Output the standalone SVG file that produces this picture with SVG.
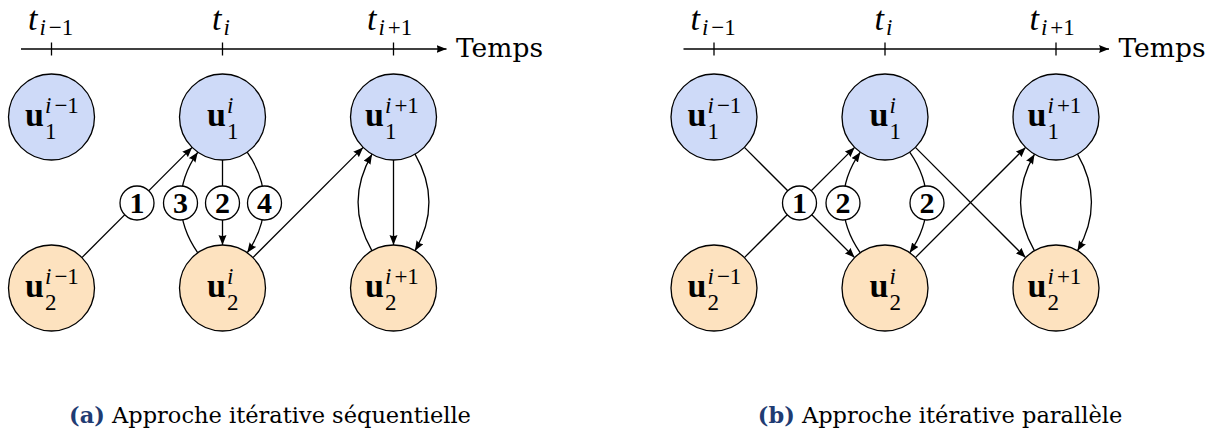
<svg xmlns="http://www.w3.org/2000/svg" width="1215" height="436" viewBox="0 0 1215 436">
<style>
  .n1 { fill: #cedaf8; stroke: #000; stroke-width: 1.3; }
  .n2 { fill: #fde2bf; stroke: #000; stroke-width: 1.3; }
  .lab { fill: #fff; stroke: #000; stroke-width: 1.3; }
  .e { fill: none; stroke: #000; stroke-width: 1.3; marker-end: url(#ah); }
  .ax { fill: none; stroke: #000; stroke-width: 1.3; }
  .u { font-family: "Liberation Serif", serif; font-weight: bold; font-size: 34px; }
  .s { font-family: "Liberation Serif", serif; font-size: 23px; }
  .t { font-family: "Liberation Serif", serif; font-style: italic; font-size: 34px; }
  .it { font-style: italic; }
  .num { font-family: "Liberation Serif", serif; font-weight: bold; font-size: 30px; text-anchor: middle; }
  .temps { font-family: "DejaVu Serif", serif; font-size: 26.5px; }
  .cap { font-family: "DejaVu Serif", serif; font-size: 22.5px; text-anchor: middle; }
  .capl { font-weight: bold; fill: #1f3c73; }
</style>
<defs>
  <marker id="ah" markerUnits="userSpaceOnUse" markerWidth="12" markerHeight="10" refX="10" refY="4" orient="auto">
    <path d="M0,0 L10,4 L0,8 Q2,4 0,0 Z" fill="#000"/>
  </marker>
  <g id="panel-axis">
    <path class="ax" d="M21,49 L446.5,49" style="marker-end:url(#ah)"/>
    <path class="ax" d="M51.5,42.5 V55.5 M222.5,42.5 V55.5 M393.5,42.5 V55.5"/>
    <text class="t" x="28" y="30">t<tspan class="s" y="35" dx="2">i</tspan><tspan class="s" style="font-style:normal" y="35" dx="3">−1</tspan></text>
    <text class="t" x="212" y="30">t<tspan class="s" y="35" dx="2">i</tspan></text>
    <text class="t" x="367" y="30">t<tspan class="s" y="35" dx="2">i</tspan><tspan class="s" style="font-style:normal" y="35" dx="3">+1</tspan></text>
    <text class="temps" x="456" y="57">Temps</text>
  </g>
</defs>

<!-- Panel (a) -->
<g id="panel-a">
  <use href="#panel-axis"/>
  <g id="a-connectors">
    <path class="e" d="M81.9,257.6 L192.1,147.4"/>
    <path class="e" d="M197.8,252.8 C175.2,220.5 175.2,184.5 197.8,152.2"/>
    <path class="e" d="M222.5,160 L222.5,245"/>
    <path class="e" d="M247.2,152.2 C269.8,184.5 269.8,220.5 247.2,252.8"/>
    <path class="e" d="M252.9,257.6 L363.1,147.4"/>
    <path class="e" d="M372,250.8 C353.1,218.1 353.1,186.9 372,154.2"/>
    <path class="e" d="M393.5,160 L393.5,245"/>
    <path class="e" d="M415,154.2 C433.9,186.9 433.9,218.1 415,250.8"/>
    <g id="a-label-1"><circle class="lab" cx="137" cy="203" r="17"/><text class="num" x="137" y="213">1</text></g>
    <g id="a-label-3"><circle class="lab" cx="180.5" cy="203" r="17"/><text class="num" x="180.5" y="213">3</text></g>
    <g id="a-label-2"><circle class="lab" cx="222.5" cy="203" r="17"/><text class="num" x="222.5" y="213">2</text></g>
    <g id="a-label-4"><circle class="lab" cx="264.5" cy="203" r="17"/><text class="num" x="264.5" y="213">4</text></g>
  </g>
  <g id="a-u1-im1"><circle class="n1" cx="51.5" cy="117" r="43"/><text class="u" x="25" y="126">u</text><text class="s" x="45" y="113"><tspan class="it">i</tspan><tspan dx="3">−1</tspan></text><text class="s" x="45" y="139">1</text></g>
  <g id="a-u1-i"><circle class="n1" cx="222.5" cy="117" r="43"/><text class="u" x="207" y="126">u</text><text class="s" x="227" y="113" font-style="italic">i</text><text class="s" x="227" y="139">1</text></g>
  <g id="a-u1-ip1"><circle class="n1" cx="393.5" cy="117" r="43"/><text class="u" x="365" y="126">u</text><text class="s" x="385" y="113"><tspan class="it">i</tspan><tspan dx="3">+1</tspan></text><text class="s" x="385" y="139">1</text></g>
  <g id="a-u2-im1"><circle class="n2" cx="51.5" cy="288" r="43"/><text class="u" x="25" y="297">u</text><text class="s" x="45" y="284"><tspan class="it">i</tspan><tspan dx="3">−1</tspan></text><text class="s" x="45" y="310">2</text></g>
  <g id="a-u2-i"><circle class="n2" cx="222.5" cy="288" r="43"/><text class="u" x="207" y="297">u</text><text class="s" x="227" y="284" font-style="italic">i</text><text class="s" x="227" y="310">2</text></g>
  <g id="a-u2-ip1"><circle class="n2" cx="393.5" cy="288" r="43"/><text class="u" x="365" y="297">u</text><text class="s" x="385" y="284"><tspan class="it">i</tspan><tspan dx="3">+1</tspan></text><text class="s" x="385" y="310">2</text></g>
  <text class="cap" x="270" y="423"><tspan class="capl">(a)</tspan> Approche itérative séquentielle</text>
</g>

<!-- Panel (b) -->
<g id="panel-b" transform="translate(662.5,0)">
  <use href="#panel-axis"/>
  <g id="b-connectors">
    <path class="e" d="M81.9,147.4 L192.1,257.6"/>
    <path class="e" d="M81.9,257.6 L192.1,147.4"/>
    <path class="e" d="M197.8,252.8 C175.2,220.5 175.2,184.5 197.8,152.2"/>
    <path class="e" d="M247.2,152.2 C269.8,184.5 269.8,220.5 247.2,252.8"/>
    <path class="e" d="M252.9,257.6 L363.1,147.4"/>
    <path class="e" d="M252.9,147.4 L363.1,257.6"/>
    <path class="e" d="M372,250.8 C353.1,218.1 353.1,186.9 372,154.2"/>
    <path class="e" d="M415,154.2 C433.9,186.9 433.9,218.1 415,250.8"/>
    <g id="b-label-1"><circle class="lab" cx="137" cy="203" r="17"/><text class="num" x="137" y="213">1</text></g>
    <g id="b-label-2a"><circle class="lab" cx="180.5" cy="203" r="17"/><text class="num" x="180.5" y="213">2</text></g>
    <g id="b-label-2b"><circle class="lab" cx="264.5" cy="203" r="17"/><text class="num" x="264.5" y="213">2</text></g>
  </g>
  <g id="b-u1-im1"><circle class="n1" cx="51.5" cy="117" r="43"/><text class="u" x="25" y="126">u</text><text class="s" x="45" y="113"><tspan class="it">i</tspan><tspan dx="3">−1</tspan></text><text class="s" x="45" y="139">1</text></g>
  <g id="b-u1-i"><circle class="n1" cx="222.5" cy="117" r="43"/><text class="u" x="207" y="126">u</text><text class="s" x="227" y="113" font-style="italic">i</text><text class="s" x="227" y="139">1</text></g>
  <g id="b-u1-ip1"><circle class="n1" cx="393.5" cy="117" r="43"/><text class="u" x="365" y="126">u</text><text class="s" x="385" y="113"><tspan class="it">i</tspan><tspan dx="3">+1</tspan></text><text class="s" x="385" y="139">1</text></g>
  <g id="b-u2-im1"><circle class="n2" cx="51.5" cy="288" r="43"/><text class="u" x="25" y="297">u</text><text class="s" x="45" y="284"><tspan class="it">i</tspan><tspan dx="3">−1</tspan></text><text class="s" x="45" y="310">2</text></g>
  <g id="b-u2-i"><circle class="n2" cx="222.5" cy="288" r="43"/><text class="u" x="207" y="297">u</text><text class="s" x="227" y="284" font-style="italic">i</text><text class="s" x="227" y="310">2</text></g>
  <g id="b-u2-ip1"><circle class="n2" cx="393.5" cy="288" r="43"/><text class="u" x="365" y="297">u</text><text class="s" x="385" y="284"><tspan class="it">i</tspan><tspan dx="3">+1</tspan></text><text class="s" x="385" y="310">2</text></g>
  <text class="cap" x="277.5" y="423"><tspan class="capl">(b)</tspan> Approche itérative parallèle</text>
</g>
</svg>
